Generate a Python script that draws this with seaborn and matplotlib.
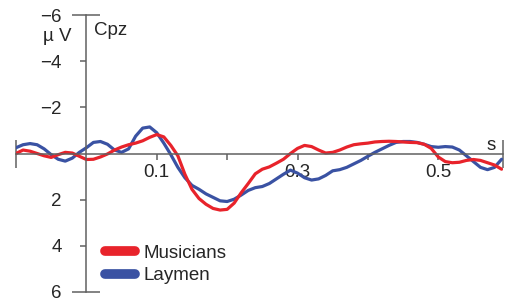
import numpy as np
import pandas as pd
import matplotlib
matplotlib.use('Agg')
import matplotlib.pyplot as plt
import seaborn as sns

# ---- data: ERP amplitude at Cpz (µV), negative plotted upwards ----
time_s = np.round(np.arange(-0.10, 0.595, 0.01), 2)

musicians = [0.00, -0.15, -0.10, 0.00, 0.10, 0.17, 0.05, -0.05, -0.02, 0.12,
             0.26, 0.25, 0.15, 0.02, -0.15, -0.28, -0.38, -0.45, -0.55, -0.70,
             -0.82, -0.72, -0.35, 0.10, 0.90, 1.55, 1.95, 2.20, 2.38, 2.45,
             2.42, 2.15, 1.70, 1.30, 0.88, 0.68, 0.58, 0.42, 0.25, 0.00,
             -0.22, -0.35, -0.30, -0.15, -0.02, -0.05, -0.15, -0.28, -0.38, -0.42,
             -0.45, -0.50, -0.52, -0.53, -0.52, -0.50, -0.48, -0.47, -0.40, -0.22,
             0.15, 0.35, 0.40, 0.38, 0.30, 0.26, 0.30, 0.40, 0.50, 0.68]

laymen = [-0.25, -0.38, -0.43, -0.38, -0.20, 0.05, 0.25, 0.33, 0.20, -0.05,
          -0.25, -0.48, -0.52, -0.40, -0.15, -0.05, -0.20, -0.75, -1.10, -1.15,
          -0.90, -0.45, 0.05, 0.60, 1.05, 1.38, 1.55, 1.75, 1.90, 2.05,
          2.08, 1.98, 1.80, 1.60, 1.48, 1.43, 1.30, 1.10, 0.90, 0.72,
          0.85, 1.05, 1.15, 1.10, 0.95, 0.75, 0.70, 0.60, 0.45, 0.30,
          0.12, -0.05, -0.20, -0.35, -0.48, -0.52, -0.52, -0.48, -0.40, -0.30,
          -0.27, -0.30, -0.28, -0.15, 0.10, 0.35, 0.60, 0.70, 0.60, 0.25]

groups = ['Musicians', 'Laymen']
y_ticks = [-4, -2, 2, 4]
y_tick_labels = ['\u22124', '\u22122', '2', '4']
y_end_ticks = [-6, 6]
y_end_labels = ['\u22126', '6']
x_ticks = [0.1, 0.2, 0.3, 0.4, 0.5]
x_tick_labels = ['0.1', '', '0.3', '', '0.5']

RED = '#e8232b'
BLUE = '#3a52a3'
AXIS = '#606060'
FS = 13.5

df = pd.DataFrame({
    'time': np.concatenate([time_s, time_s]),
    'amp': musicians + laymen,
    'group': ['Musicians'] * len(musicians) + ['Laymen'] * len(laymen),
})

sns.set_style('white')
plt.rcParams['font.family'] = ['Liberation Sans', 'DejaVu Sans']

fig = plt.figure(figsize=(5.07, 2.99), dpi=100)
ax = fig.add_axes([16 / 507, 7 / 299, 487 / 507, 277 / 299])
ax.patch.set_alpha(0)

# blue first so that the red trace sits on top
sns.lineplot(data=df, x='time', y='amp', hue='group', hue_order=['Laymen', 'Musicians'],
             palette={'Musicians': RED, 'Laymen': BLUE}, linewidth=2.3,
             estimator=None, sort=False, legend=False, ax=ax)

ax.set_xlim(-0.1, 0.592)
ax.set_ylim(6, -6)
ax.set_xlabel('')
ax.set_ylabel('')
ax.grid(False)

# axes through the origin
for s in ['top', 'right']:
    ax.spines[s].set_visible(False)
ax.spines['left'].set_position(('data', 0))
ax.spines['bottom'].set_position(('data', 0))
for s in ['left', 'bottom']:
    ax.spines[s].set_color(AXIS)
    ax.spines[s].set_linewidth(1.1)

ax.set_yticks(y_ticks, labels=y_tick_labels)
ax.set_yticks(y_end_ticks, labels=y_end_labels, minor=True)
ax.set_xticks(x_ticks, labels=x_tick_labels)
ax.set_xticks(list(ax.get_xlim()), labels=['', ''], minor=True)

# seaborn's white style switches the tick marks off
ax.tick_params(which='both', left=True, bottom=True, labelleft=True, labelbottom=True)
ax.tick_params(axis='y', which='major', direction='out', length=4.3, width=1.1,
               color=AXIS, pad=13.5, labelsize=FS)
ax.tick_params(axis='y', which='minor', direction='inout', length=20, width=1.1,
               color=AXIS, pad=8, labelsize=FS)
ax.tick_params(axis='x', which='major', direction='out', length=4.3, width=1.1,
               color=AXIS, pad=3.5, labelsize=FS)
ax.tick_params(axis='x', which='minor', direction='inout', length=20, width=1.1,
               color=AXIS)

# axis annotations
ax.text(-0.041, -4.89, '\u00b5 V', ha='center', va='baseline', fontsize=FS)
ax.text(0.011, -5.15, 'Cpz', ha='left', va='baseline', fontsize=FS)
ax.text(0.575, -0.17, 's', ha='center', va='baseline', fontsize=FS)

# legend
handles = [ax.lines[1], ax.lines[0]]
leg = ax.legend(handles, groups, loc='center left',
                bbox_to_anchor=(105 / 507, 1 - 264.5 / 299), bbox_transform=fig.transFigure,
                frameon=False, fontsize=FS, handlelength=1.6, handletextpad=0.45,
                labelspacing=0.3, borderpad=0, borderaxespad=0)
for h in leg.legend_handles:
    h.set_linewidth(7)
    h.set_solid_capstyle('round')

fig.savefig('out.png', dpi=100)
